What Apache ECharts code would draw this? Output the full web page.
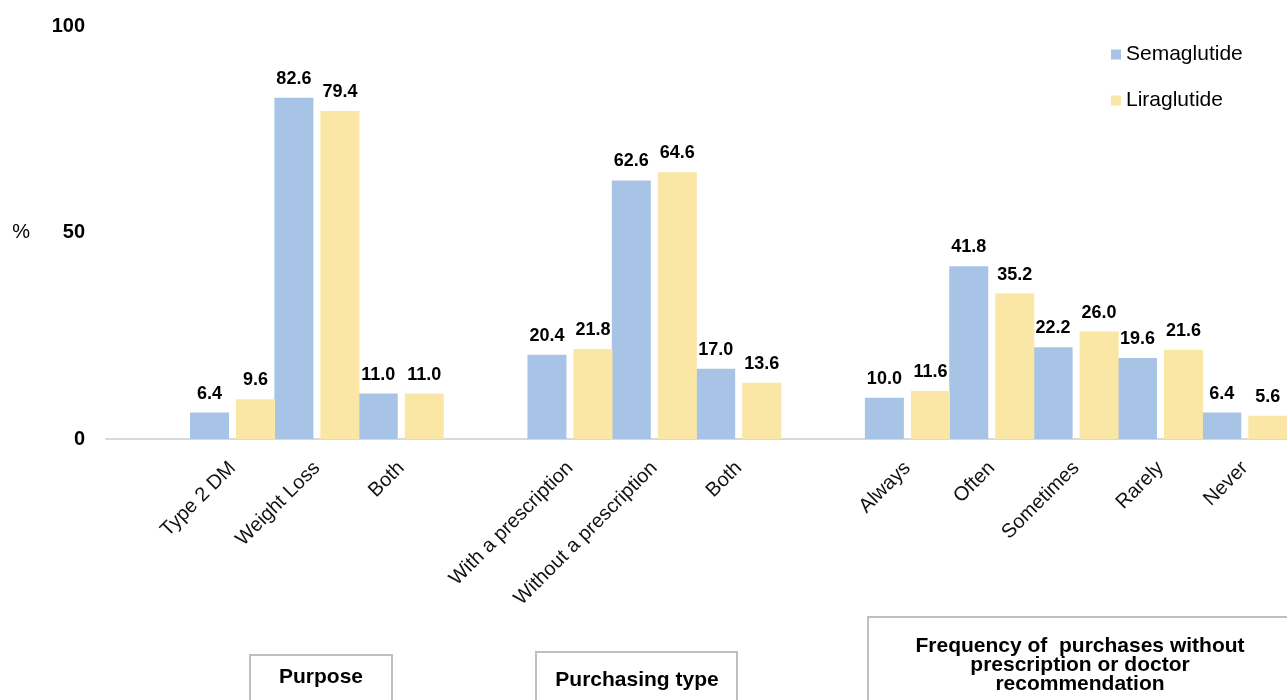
<!DOCTYPE html>
<html>
<head>
<meta charset="utf-8">
<script src="https://cdn.jsdelivr.net/npm/echarts@6/dist/echarts.min.js"></script>
<style>
html,body{margin:0;padding:0;background:#fff;}
#chart{width:1287px;height:700px;}
</style>
</head>
<body>
<div id="chart"></div>
<script>
// ---- data ----
var purposeCats = ['Type 2 DM', 'Weight Loss', 'Both'];
var purchasingCats = ['With a prescription', 'Without a prescription', 'Both'];
var frequencyCats = ['Always', 'Often', 'Sometimes', 'Rarely', 'Never'];

var semaPurpose = [6.4, 82.6, 11.0];
var liraPurpose = [9.6, 79.4, 11.0];
var semaPurchasing = [20.4, 62.6, 17.0];
var liraPurchasing = [21.8, 64.6, 13.6];
var semaFrequency = [10.0, 41.8, 22.2, 19.6, 6.4];
var liraFrequency = [11.6, 35.2, 26.0, 21.6, 5.6];

var groupTitles = ['Purpose', 'Purchasing type', 'Frequency of  purchases without\nprescription or doctor\nrecommendation'];
var seriesNames = ['Semaglutide', 'Liraglutide'];
var yTicks = [0, 50, 100];

// spacer category before each group
var categories = [''].concat(purposeCats, [''], purchasingCats, [''], frequencyCats);
var semaData = ['-'].concat(semaPurpose, ['-'], semaPurchasing, ['-'], semaFrequency);
var liraData = ['-'].concat(liraPurpose, ['-'], liraPurchasing, ['-'], liraFrequency);

var FONT = '"Liberation Sans", Arial, sans-serif';
var chart = echarts.init(document.getElementById('chart'));

var labelCfg = {
  show: true, position: 'top', distance: 10,
  fontFamily: FONT, fontSize: 18, fontWeight: 'bold', color: '#000',
  formatter: function (p) { return Number(p.value).toFixed(1); }
};

chart.setOption({
  animation: false,
  backgroundColor: '#fff',
  textStyle: { fontFamily: FONT },
  grid: { left: 106, top: 26, width: 1183, height: 413, containLabel: false },
  legend: {
    orient: 'vertical', left: 1106, top: 39,
    itemWidth: 10, itemHeight: 10, itemGap: 25,
    icon: 'rect',
    textStyle: { fontFamily: FONT, fontSize: 21, color: '#000' },
    data: seriesNames
  },
  xAxis: {
    type: 'category',
    data: categories,
    axisLine: { lineStyle: { color: '#d9d9d9', width: 2 } },
    axisTick: { show: false },
    axisLabel: {
      interval: 0, rotate: 45, margin: 26,
      fontFamily: FONT, fontSize: 20, color: '#111'
    }
  },
  yAxis: {
    type: 'value', min: yTicks[0], max: yTicks[yTicks.length - 1], interval: 50,
    splitLine: { show: false },
    axisLine: { show: false },
    axisTick: { show: false },
    axisLabel: { margin: 21, fontFamily: FONT, fontSize: 20, fontWeight: 'bold', color: '#000' },
    name: '%', nameLocation: 'middle', nameRotate: 0, nameGap: 76,
    nameTextStyle: { fontFamily: FONT, fontSize: 20, color: '#000' }
  },
  series: [
    {
      name: seriesNames[0], type: 'bar', data: semaData,
      barWidth: 39, barGap: '18%',
      itemStyle: { color: '#a7c4e6' },
      label: labelCfg
    },
    {
      name: seriesNames[1], type: 'bar', data: liraData,
      barWidth: 39, barGap: '18%',
      itemStyle: { color: '#fae6a5' },
      label: labelCfg
    }
  ],
  graphic: [
    { type: 'rect', shape: { x: 250, y: 655, width: 142, height: 70 },
      style: { fill: '#fff', stroke: '#bfbfbf', lineWidth: 2 } },
    { type: 'text', x: 321, y: 677,
      style: { text: groupTitles[0], fontFamily: FONT, fontSize: 21, fontWeight: 'bold', fill: '#000', align: 'center', verticalAlign: 'middle' } },
    { type: 'rect', shape: { x: 536, y: 652, width: 201, height: 70 },
      style: { fill: '#fff', stroke: '#bfbfbf', lineWidth: 2 } },
    { type: 'text', x: 637, y: 680,
      style: { text: groupTitles[1], fontFamily: FONT, fontSize: 21, fontWeight: 'bold', fill: '#000', align: 'center', verticalAlign: 'middle' } },
    { type: 'rect', shape: { x: 868, y: 617, width: 430, height: 110 },
      style: { fill: '#fff', stroke: '#bfbfbf', lineWidth: 2 } },
    { type: 'text', x: 1080, y: 665,
      style: { text: groupTitles[2], fontFamily: FONT, fontSize: 21, fontWeight: 'bold', fill: '#000', align: 'center', verticalAlign: 'middle', lineHeight: 19 } }
  ]
});
</script>
</body>
</html>
